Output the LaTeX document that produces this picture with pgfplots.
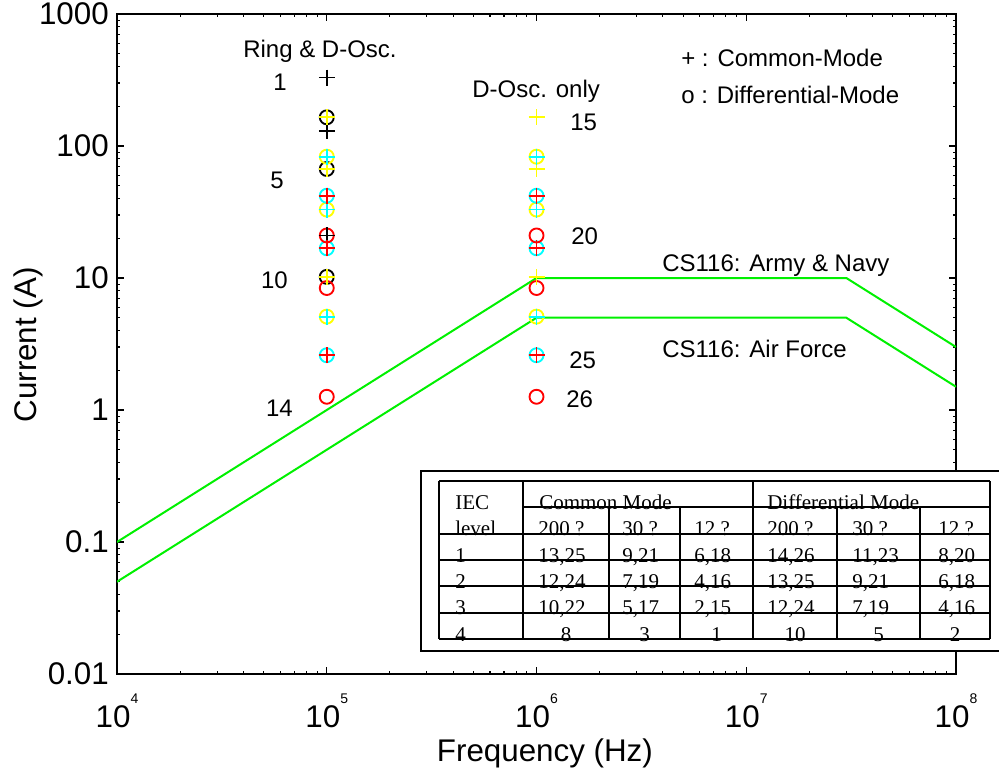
\documentclass[border=0pt]{standalone}
\usepackage{fontspec}
\setmainfont{Liberation Sans}
\newfontfamily\tablefont{Liberation Serif}
\usepackage{pgfplots}
\pgfplotsset{compat=1.18}
\definecolor{cgreen}{RGB}{0,240,0}
\definecolor{cyel}{RGB}{255,255,0}
\definecolor{ccyan}{RGB}{0,255,255}
\definecolor{cred}{RGB}{255,0,0}
\newcommand{\sep}[1]{10\raisebox{18pt}{\fontsize{10.5pt}{10.5pt}\selectfont #1}}
\newcommand{\annfont}{\fontsize{18pt}{18pt}\selectfont}
\newcommand{\tabfont}{\tablefont\fontsize{15.75pt}{15.75pt}\selectfont}
\newcommand{\bigfont}{\fontsize{23.5pt}{23.5pt}\selectfont}
\begin{document}
\begin{tikzpicture}
\path[use as bounding box] (-87.75pt,-70.5pt) rectangle (661.5pt,505.5pt);
\clip (-87.75pt,-70.5pt) rectangle (661.5pt,505.5pt);
\begin{axis}[
  at={(0,0)}, anchor=south west, scale only axis,
  width=629.25pt, height=495pt,
  xmode=log, ymode=log,
  xmin=1e4, xmax=1e8, ymin=0.01, ymax=1000,
  xtick={1e4,1e5,1e6,1e7,1e8},
  xticklabels={\sep{4},\sep{5},\sep{6},\sep{7},\sep{8}},
  ytick={0.01,0.1,1,10,100,1000},
  yticklabels={0.01,0.1,1,10,100,1000},
  tick label style={font=\bigfont},
  xticklabel style={anchor=base, yshift=-39.75pt},
  yticklabel style={anchor=east, inner sep=0pt, xshift=-6pt},
  axis line style={line width=1.4pt},
  major tick style={line width=0.9pt, black},
  minor tick style={line width=0.8pt, black},
  major tick length=5.25pt, minor tick length=2.6pt,
  xlabel={Frequency (Hz)}, ylabel={Current (A)},
  label style={font=\bigfont},
  xlabel style={at={(axis description cs:0.51,-0.1318)}, anchor=base},
  ylabel style={at={(axis description cs:-0.106,0.4985)}, anchor=center},
]
% limit lines
\addplot[cgreen, line width=1.5pt] coordinates {(1e4,0.1) (1e6,10) (3e7,10) (1e8,3)};
\addplot[cgreen, line width=1.5pt] coordinates {(1e4,0.05) (1e6,5) (3e7,5) (1e8,1.5)};
% differential mode (circles)
\addplot[only marks, mark=o, black, mark size=5.25pt, mark options={line width=1.4pt}] coordinates {(1e5,165) (1e5,67) (1e5,10.2)};
\addplot[only marks, mark=o, cyel, mark size=5.25pt, mark options={line width=1.4pt}] coordinates {(1e5,83) (1e5,33) (1e5,5.1) (1e6,83) (1e6,33) (1e6,5.1)};
\addplot[only marks, mark=o, ccyan, mark size=5.25pt, mark options={line width=1.4pt}] coordinates {(1e5,42) (1e5,16.8) (1e5,2.6) (1e6,42) (1e6,16.8) (1e6,2.6)};
\addplot[only marks, mark=o, cred, mark size=5.25pt, mark options={line width=1.4pt}] coordinates {(1e5,21) (1e5,8.4) (1e5,1.26) (1e6,21) (1e6,8.4) (1e6,1.26)};
% common mode (plus)
\addplot[only marks, mark=+, black, mark size=6pt, mark options={line width=1.4pt}] coordinates {(1e5,330) (1e5,130) (1e5,21)};
\addplot[only marks, mark=+, cyel, mark size=6pt, mark options={line width=1.4pt}] coordinates {(1e5,165) (1e5,67) (1e5,10.2) (1e6,165) (1e6,67) (1e6,10.2)};
\addplot[only marks, mark=+, ccyan, mark size=6pt, mark options={line width=1.4pt}] coordinates {(1e5,83) (1e5,33) (1e5,5.1) (1e6,83) (1e6,33) (1e6,5.1)};
\addplot[only marks, mark=+, cred, mark size=6pt, mark options={line width=1.4pt}] coordinates {(1e5,42) (1e5,16.8) (1e5,2.6) (1e6,42) (1e6,16.8) (1e6,2.6)};
\end{axis}
\begin{scope}[shift={(-87.75pt,505.5pt)}, x=0.75pt, y=-0.75pt]
\begin{scope}[every node/.style={inner sep=0pt, font=\annfont}]
\node[anchor=base west] at (243,58) {Ring \& D-Osc.};
\node[anchor=base east] at (287,91) {1};
\node[anchor=base east] at (284,189) {5};
\node[anchor=base east] at (288,289) {10};
\node[anchor=base east] at (293,417) {14};
\node[anchor=base west] at (472,98) {D-Osc. only};
\node[anchor=base west] at (570,131) {15};
\node[anchor=base west] at (571,245) {20};
\node[anchor=base west] at (569,369) {25};
\node[anchor=base west] at (566,408) {26};
\node[anchor=base west] at (681,67) {+ : Common-Mode};
\node[anchor=base west] at (681,104) {o : Differential-Mode};
\node[anchor=base west] at (662,272) {CS116: Army \& Navy};
\node[anchor=base west] at (662,358) {CS116: Air Force};
\end{scope}
% table
\filldraw[fill=white, draw=black, line width=1pt] (421,471) rectangle (1010,651);
\begin{scope}[every node/.style={inner sep=0pt, font=\tabfont}]
\node[anchor=base west] at (455,509.3) {IEC};
\node[anchor=base west] at (539,509.3) {Common Mode};
\node[anchor=base west] at (767,509.3) {Differential Mode};
\node[anchor=base west] at (455,535.7) {level};
\node[anchor=base west] at (538,535.7) {200 ?};
\node[anchor=base west] at (622,535.7) {30 ?};
\node[anchor=base west] at (694,535.7) {12 ?};
\node[anchor=base west] at (767,535.7) {200 ?};
\node[anchor=base west] at (852,535.7) {30 ?};
\node[anchor=base west] at (938,535.7) {12 ?};
% row 1
\node[anchor=base west] at (455,562) {1};
\node[anchor=base west] at (538,562) {13,25};
\node[anchor=base west] at (622,562) {9,21};
\node[anchor=base west] at (694,562) {6,18};
\node[anchor=base west] at (767,562) {14,26};
\node[anchor=base west] at (852,562) {11,23};
\node[anchor=base west] at (938,562) {8,20};
% row 2
\node[anchor=base west] at (455,588.3) {2};
\node[anchor=base west] at (538,588.3) {12,24};
\node[anchor=base west] at (622,588.3) {7,19};
\node[anchor=base west] at (694,588.3) {4,16};
\node[anchor=base west] at (767,588.3) {13,25};
\node[anchor=base west] at (852,588.3) {9,21};
\node[anchor=base west] at (938,588.3) {6,18};
% row 3
\node[anchor=base west] at (455,614.7) {3};
\node[anchor=base west] at (538,614.7) {10,22};
\node[anchor=base west] at (622,614.7) {5,17};
\node[anchor=base west] at (694,614.7) {2,15};
\node[anchor=base west] at (767,614.7) {12,24};
\node[anchor=base west] at (852,614.7) {7,19};
\node[anchor=base west] at (938,614.7) {4,16};
% row 4
\node[anchor=base west] at (455,641) {4};
\node[anchor=base] at (566,641) {8};
\node[anchor=base] at (644.5,641) {3};
\node[anchor=base] at (716.5,641) {1};
\node[anchor=base] at (795,641) {10};
\node[anchor=base] at (878.5,641) {5};
\node[anchor=base] at (955,641) {2};
\end{scope}
\begin{scope}[line width=1.5pt]
\draw (439,481) -- (990,481);
\draw (523,507.3) -- (990,507.3);
\foreach \yy in {533.7,560,586.3,612.7,639} {\draw (439,\yy) -- (990,\yy);}
\foreach \xx in {439,523,753,990} {\draw (\xx,481) -- (\xx,639);}
\foreach \xx in {609,680,837,920} {\draw (\xx,507.3) -- (\xx,639);}
\end{scope}
\end{scope}
\end{tikzpicture}
\end{document}
